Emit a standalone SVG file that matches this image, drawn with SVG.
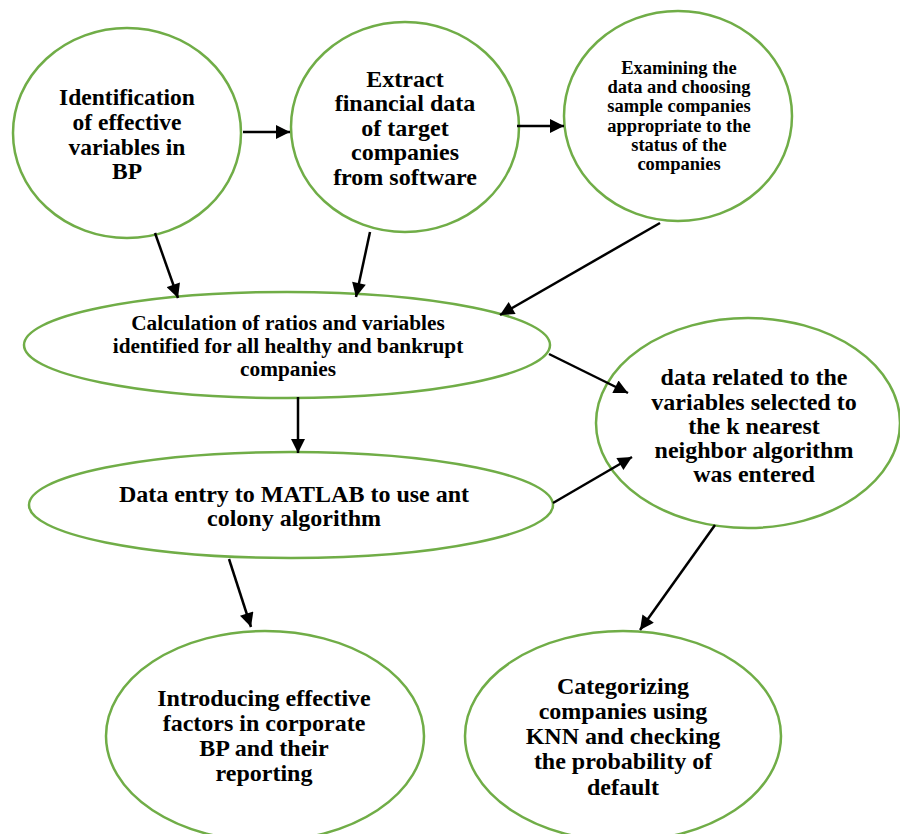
<svg xmlns="http://www.w3.org/2000/svg" width="900" height="834" viewBox="0 0 900 834">
<style>
.n{fill:#fff;stroke:#70AD47;stroke-width:2.5}
.t{font-weight:bold;fill:#000;text-anchor:middle}
.c line{stroke:#000;stroke-width:2.5;marker-end:url(#ah)}
</style>
<defs>
<marker id="ah" viewBox="0 0 10 10" refX="10" refY="5" markerUnits="userSpaceOnUse" markerWidth="16" markerHeight="14" orient="auto">
<path d="M0,0 L10,5 L0,10 z" fill="#000"/>
</marker>
</defs>
<rect width="900" height="834" fill="#fff"/>
<g font-family="Liberation Serif, Times New Roman, DejaVu Serif, serif">
<g id="n1"><ellipse class="n" cx="127" cy="133" rx="114" ry="105"/>
<text class="t" font-size="23.5"><tspan x="127" y="105">Identification</tspan><tspan x="127" y="130">of effective</tspan><tspan x="127" y="155">variables in</tspan><tspan x="127" y="179">BP</tspan></text></g>
<g id="n2"><ellipse class="n" cx="405" cy="127" rx="114" ry="105"/>
<text class="t" font-size="24"><tspan x="405" y="87">Extract</tspan><tspan x="405" y="111">financial data</tspan><tspan x="405" y="136">of target</tspan><tspan x="405" y="160">companies</tspan><tspan x="405" y="185">from software</tspan></text></g>
<g id="n3"><ellipse class="n" cx="678" cy="116" rx="114" ry="105"/>
<text class="t" font-size="18.5"><tspan x="679" y="74">Examining the</tspan><tspan x="679" y="93">data and choosing</tspan><tspan x="679" y="112">sample companies</tspan><tspan x="679" y="132">appropriate to the</tspan><tspan x="679" y="151">status of the</tspan><tspan x="679" y="170">companies</tspan></text></g>
<g id="n4"><ellipse class="n" cx="287" cy="345" rx="263" ry="53"/>
<text class="t" font-size="21.3"><tspan x="288" y="330">Calculation of ratios and variables</tspan><tspan x="288" y="353">identified for all healthy and bankrupt</tspan><tspan x="288" y="376">companies</tspan></text></g>
<g id="n5"><ellipse class="n" cx="291" cy="505" rx="262" ry="53"/>
<text class="t" font-size="24"><tspan x="294" y="502">Data entry to MATLAB to use ant</tspan><tspan x="294" y="526">colony algorithm</tspan></text></g>
<g id="n6"><ellipse class="n" cx="748" cy="423" rx="152" ry="105"/>
<text class="t" font-size="24"><tspan x="754" y="385">data related to the</tspan><tspan x="754" y="410">variables selected to</tspan><tspan x="754" y="434">the k nearest</tspan><tspan x="754" y="458">neighbor algorithm</tspan><tspan x="754" y="482">was entered</tspan></text></g>
<g id="n7"><ellipse class="n" cx="265" cy="736" rx="159" ry="105"/>
<text class="t" font-size="24"><tspan x="264" y="706">Introducing effective</tspan><tspan x="264" y="731">factors in corporate</tspan><tspan x="264" y="756">BP and their</tspan><tspan x="264" y="781">reporting</tspan></text></g>
<g id="n8"><ellipse class="n" cx="623" cy="736" rx="158" ry="105"/>
<text class="t" font-size="24"><tspan x="623" y="694">Categorizing</tspan><tspan x="623" y="719">companies using</tspan><tspan x="623" y="744">KNN and checking</tspan><tspan x="623" y="769">the probability of</tspan><tspan x="623" y="795">default</tspan></text></g>
</g>
<g id="connectors" class="c">
<line x1="243" y1="132" x2="290" y2="132"/>
<line x1="517" y1="126" x2="564" y2="126"/>
<line x1="155" y1="233" x2="178" y2="298"/>
<line x1="370" y1="232" x2="356" y2="297"/>
<line x1="660" y1="223" x2="500" y2="315"/>
<line x1="298" y1="397" x2="298" y2="453"/>
<line x1="549" y1="354" x2="628" y2="393"/>
<line x1="553" y1="503" x2="632" y2="457"/>
<line x1="715" y1="525" x2="640" y2="630"/>
<line x1="229" y1="559" x2="251" y2="627"/>
</g>
</svg>
